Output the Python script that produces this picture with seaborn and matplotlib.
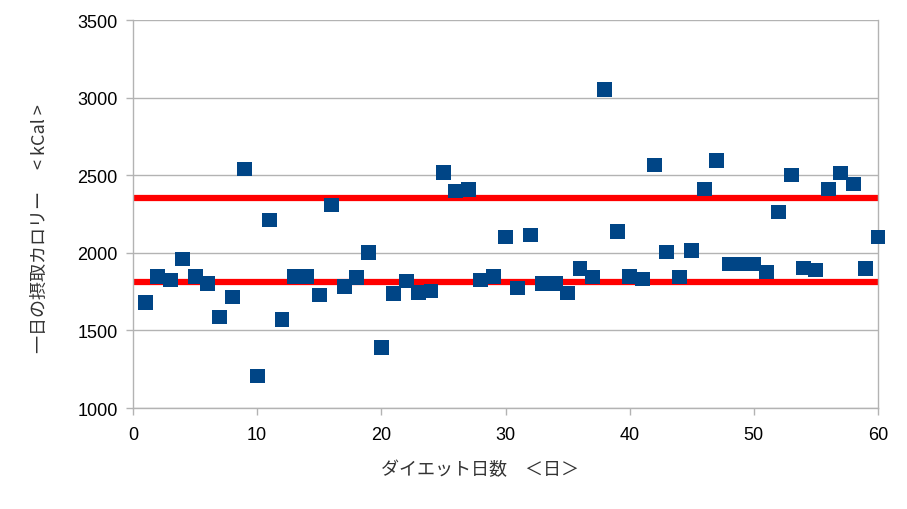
import matplotlib
matplotlib.use("Agg")
import matplotlib.pyplot as plt
import seaborn as sns
import pandas as pd

days = list(range(1, 61))
kcal = [1680, 1850, 1825, 1960, 1850, 1800, 1586, 1715, 2540, 1206,
        2211, 1573, 1850, 1850, 1728, 2308, 1780, 1838, 2000, 1387,
        1735, 1818, 1747, 1754, 2520, 2398, 2405, 1825, 1850, 2102,
        1773, 2115, 1805, 1800, 1741, 1896, 1844, 3055, 2140, 1850,
        1831, 2566, 2005, 1844, 2012, 2411, 2592, 1928, 1928, 1928,
        1876, 2263, 2501, 1902, 1889, 2411, 2514, 2443, 1896, 2102]
upper_limit = 2350
lower_limit = 1810
x_range = [0, 60]
y_ticks = [1000, 1500, 2000, 2500, 3000, 3500]
x_ticks = [0, 10, 20, 30, 40, 50, 60]

sns.set_theme(style="white")
plt.rcParams['font.family'] = ['Liberation Sans', 'Noto Sans CJK JP', 'DejaVu Sans']

fig = plt.figure(figsize=(9.07, 5.10), dpi=100)
ax = fig.add_axes([133/907, 1-409/510, (878-133)/907, (409-21)/510])

df = pd.DataFrame({"day": days, "kcal": kcal})
lines = pd.DataFrame({"x": x_range * 2, "y": [upper_limit]*2 + [lower_limit]*2,
                      "g": ["u", "u", "l", "l"]})
sns.lineplot(data=lines, x="x", y="y", units="g", estimator=None, color="#ff0000",
             linewidth=4.5, ax=ax, zorder=2)
sns.scatterplot(data=df, x="day", y="kcal", marker="s", s=115, color="#004586",
                edgecolor="none", linewidth=0, ax=ax, zorder=3, clip_on=False)

ax.set_xlim(0, 60)
ax.set_ylim(1000, 3500)
ax.set_xticks(x_ticks)
ax.set_yticks(y_ticks)
ax.yaxis.grid(True, color="#b3b3b3", linewidth=1)
ax.xaxis.grid(False)
for side in ["left", "bottom", "right"]:
    ax.spines[side].set_color("#b3b3b3")
    ax.spines[side].set_linewidth(1)
ax.spines["top"].set_visible(False)
ax.tick_params(axis="both", which="both", length=5, width=1, color="#b3b3b3",
               labelsize=13, labelcolor="#000000", direction="out",
               bottom=True, left=True)
ax.tick_params(axis="x", pad=8)
ax.tick_params(axis="y", pad=6)

ax.set_xlabel("ダイエット日数　＜日＞", fontsize=13, color="#333333",
              family=['Noto Sans CJK JP', 'DejaVu Sans'])
ax.set_ylabel("一日の摂取カロリー　 < kCal >", fontsize=13, color="#333333",
              family=['Noto Sans CJK JP', 'DejaVu Sans'])
ax.xaxis.set_label_coords((480-133)/745, (409-461)/388)
ax.yaxis.set_label_coords((49-133)/745, (409-229)/388)

fig.savefig("out.png", dpi=100)
